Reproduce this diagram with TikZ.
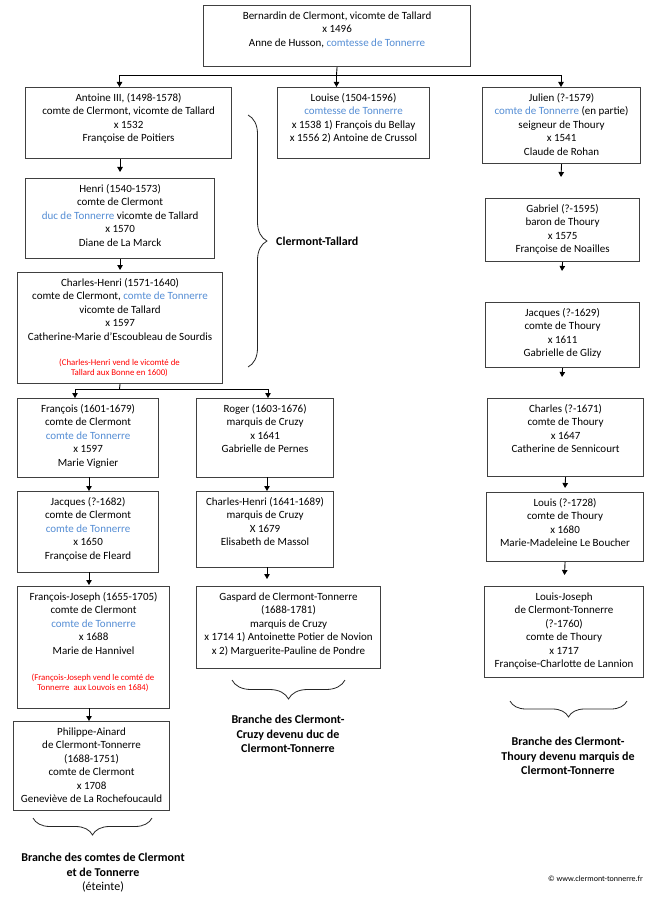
\documentclass[tikz,border=0pt]{standalone}
\usepackage{fontspec}
\setmainfont{Carlito}
\usetikzlibrary{arrows.meta,decorations.pathreplacing}
\definecolor{tblue}{HTML}{558ED5}
\definecolor{tred}{HTML}{FF0000}
\definecolor{frame}{HTML}{404040}
\newcommand\bl[1]{\textcolor{tblue}{#1}}
\newcommand\famnode[6]{%
  \pgfmathsetmacro\bw{#4-#2}\pgfmathsetmacro\bh{#5-#3}%
  \node[box, minimum width=\bw pt, minimum height=\bh pt, anchor=north west] (#1) at (#2,#3) {};
  \node[txt, anchor=north] (#1t) at ([yshift=-6.2pt]#1.north) {#6};
}
\begin{document}
\begin{tikzpicture}[x=1pt,y=-1pt,
  box/.style={draw=frame, line width=1.1pt, inner sep=0pt},
  txt/.style={font=\fontsize{11}{13.5}\selectfont, align=center, inner sep=0pt, execute at begin node=\strut},
  note/.style={font=\fontsize{8.8}{10.5}\selectfont, align=center, inner sep=0pt, text=tred},
  lbl/.style={font=\bfseries\fontsize{12}{14.5}\selectfont, align=center, inner sep=0pt},
  conn/.style={draw=black, line width=0.9pt},
  arr/.style={conn, -{Triangle[width=5.5pt,length=5pt]}},
  brc/.style={draw=black!85, line width=0.8pt, decorate, decoration={brace, amplitude=#1}},
]
\useasboundingbox[fill=white] (0,0) rectangle (650,901);

\famnode{top}{203}{5}{470}{66}{Bernardin de Clermont, vicomte de Tallard\\x 1496\\Anne de Husson, \bl{comtesse de Tonnerre}}
\famnode{antoine}{25}{87}{231}{158}{Antoine III, (1498-1578)\\comte de Clermont, vicomte de Tallard\\x 1532\\Françoise de Poitiers}
\famnode{louise}{277}{87}{429}{158}{Louise (1504-1596)\\\bl{comtesse de Tonnerre}\\x 1538 1) François du Bellay\\x 1556 2) Antoine de Crussol}
\famnode{julien}{482}{87}{640}{163}{Julien (?-1579)\\\bl{comte de Tonnerre} (en partie)\\seigneur de Thoury\\x 1541\\Claude de Rohan}
\famnode{henri}{25}{178}{214}{258}{Henri (1540-1573)\\comte de Clermont\\\bl{duc de Tonnerre} vicomte de Tallard\\x 1570\\Diane de La Marck}
\famnode{charlesh}{17}{272}{222}{383}{Charles-Henri (1571-1640)\\comte de Clermont, \bl{comte de Tonnerre}\\vicomte de Tallard\\x 1597\\Catherine-Marie d’Escoubleau de Sourdis}
\node[note] (noteA) at (119.5,368) {(Charles-Henri vend le vicomté de\\Tallard aux Bonne en 1600)};
\famnode{gabriel}{485}{198}{639}{261}{Gabriel (?-1595)\\baron de Thoury\\x 1575\\Françoise de Noailles}
\famnode{jacquest}{485}{302}{639}{367}{Jacques (?-1629)\\comte de Thoury\\x 1611\\Gabrielle de Glizy}
\famnode{francois}{17}{398}{158}{477}{François (1601-1679)\\comte de Clermont\\\bl{comte de Tonnerre}\\x 1597\\Marie Vignier}
\famnode{roger}{196}{398}{333}{477}{Roger (1603-1676)\\marquis de Cruzy\\x 1641\\Gabrielle de Pernes}
\famnode{charlest}{487}{398}{643}{476}{Charles (?-1671)\\comte de Thoury\\x 1647\\Catherine de Sennicourt}
\famnode{jacquesc}{17}{491}{158}{572}{Jacques (?-1682)\\comte de Clermont\\\bl{comte de Tonnerre}\\x 1650\\Françoise de Fleard}
\famnode{charlesc}{196}{491}{333}{567}{Charles-Henri (1641-1689)\\marquis de Cruzy\\X 1679\\Elisabeth de Massol}
\famnode{louist}{486}{492}{643}{561}{Louis (?-1728)\\comte de Thoury\\x 1680\\Marie-Madeleine Le Boucher}
\famnode{fj}{17}{586}{169}{708}{François-Joseph (1655-1705)\\comte de Clermont\\\bl{comte de Tonnerre}\\x 1688\\Marie de Hannivel}
\node[note] (noteB) at (93,683) {(François-Joseph vend le comté de\\Tonnerre\ \ aux Louvois en 1684)};
\famnode{gaspard}{196}{586}{380}{668}{Gaspard de Clermont-Tonnerre\\(1688-1781)\\marquis de Cruzy\\x 1714 1) Antoinette Potier de Novion\\x 2) Marguerite-Pauline de Pondre}
\famnode{lj}{484}{586}{643}{677}{Louis-Joseph\\de Clermont-Tonnerre\\(?-1760)\\comte de Thoury\\x 1717\\Françoise-Charlotte de Lannion}
\famnode{philippe}{13}{721}{169}{810}{Philippe-Ainard\\de Clermont-Tonnerre\\(1688-1751)\\comte de Clermont\\x 1708\\Geneviève de La Rochefoucauld}

% top connector
\coordinate (j0) at (336.5,75);
\coordinate (jl) at (119.5,75);
\coordinate (jr) at (561,75);
\draw[conn] (top.south) -- (j0);
\draw[conn] (jl) -- (jr);
\draw[arr] (jl) -- (jl |- antoine.north);
\draw[arr] (j0) -- (j0 |- louise.north);
\draw[arr] (jr) -- (jr |- julien.north);

% left column
\draw[arr, shorten >=6pt] (henri.north |- antoine.south) -- (henri.north);
\draw[arr, shorten >=2pt] (henri.south) -- (charlesh.north);
\coordinate (k0) at (119.5,389);
\coordinate (kl) at (75,389);
\coordinate (kr) at (268,389);
\draw[conn] (charlesh.south) -- (k0);
\draw[conn] (kl) -- (kr);
\draw[arr] (kl) -- (kl |- francois.north);
\draw[arr] (kr) -- (kr |- roger.north);
\coordinate (f0) at (89,477);
\draw[arr] (f0) -- (f0 |- jacquesc.north);
\coordinate (f1) at (89,572);
\draw[arr, shorten >=1pt] (f1) -- (f1 |- fj.north);
\coordinate (f2) at (89,708);
\draw[arr] (f2) -- (f2 |- philippe.north);
\coordinate (r0) at (267,477);
\draw[arr] (r0) -- (r0 |- charlesc.north);
\coordinate (r1) at (267,567);
\coordinate (r1e) at (267,579);
\draw[arr] (r1) -- (r1e);

% right column stubs
\coordinate (s1) at (561,177);
\draw[arr] (julien.south) -- (s1);
\coordinate (s2) at (562,271);
\draw[arr] (gabriel.south) -- (s2);
\coordinate (s3) at (562,377);
\draw[arr] (jacquest.south) -- (s3);
\coordinate (s4) at (565,488);
\draw[arr] (charlest.south) -- (s4);
\coordinate (s5) at (564.5,575);
\draw[arr] (louist.south) -- (s5);

% braces
\draw[brc=19] (248,115) -- (248,367);
\draw[brc=19] (345,680) -- (232,680);
\draw[brc=16] (627,701) -- (510,701);
\draw[brc=17] (152,818) -- (33,818);

% labels
\node[lbl, anchor=west] (ctl) at (276,241) {Clermont-Tallard};
\node[lbl] (lcruzy) at (288,734) {Branche des Clermont-\\Cruzy devenu duc de\\Clermont-Tonnerre};
\node[lbl] (lthoury) at (568,756) {Branche des Clermont-\\Thoury devenu marquis de\\Clermont-Tonnerre};
\node[lbl] (lcomtes) at (103,873) {Branche des comtes de Clermont\\et de Tonnerre\\\mdseries (éteinte)};
\node[anchor=east, inner sep=0pt, font=\fontsize{8}{10}\selectfont] (copy) at (643,879) {© www.clermont-tonnerre.fr};
\end{tikzpicture}
\end{document}
